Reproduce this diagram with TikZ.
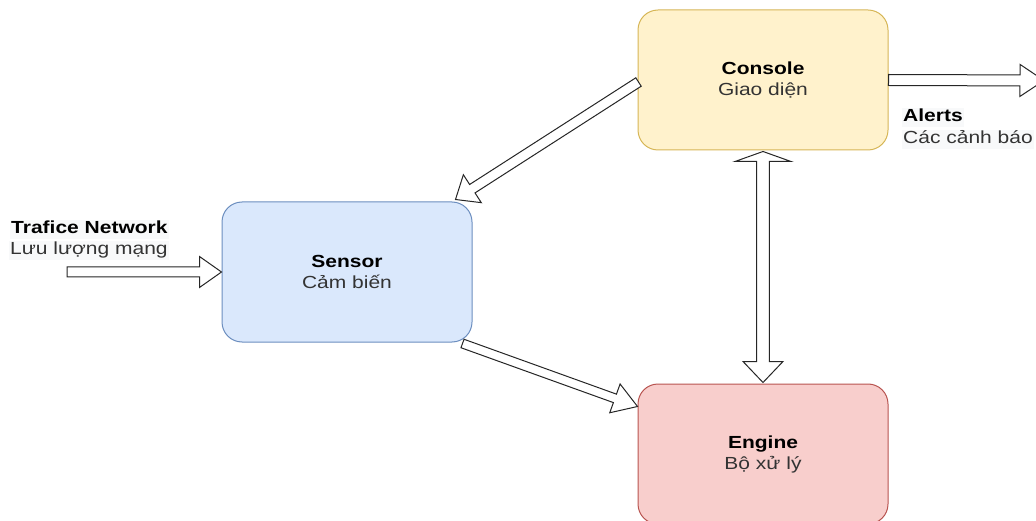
\documentclass[tikz,border=0pt]{standalone}
\usepackage{fontspec}
\setmainfont{Liberation Sans}[FakeStretch=1.2]
\usetikzlibrary{calc}

\definecolor{consoleFill}{HTML}{FFF2CC}
\definecolor{consoleLine}{HTML}{D6B656}
\definecolor{sensorFill}{HTML}{DAE8FC}
\definecolor{sensorLine}{HTML}{6C8EBF}
\definecolor{engineFill}{HTML}{F8CECC}
\definecolor{engineLine}{HTML}{B85450}
\definecolor{labelBack}{HTML}{F8F9FA}
\definecolor{textGray}{HTML}{333333}

% hollow block arrow from #1 to #2: shaft half width #3, head half width #4, head length #5
\newcommand\blockarrow[5]{%
  \path ($(#2)!#5!(#1)$) coordinate (ba-h);
  \draw[arrowbody] ($(#1)!#3!90:(#2)$) -- ($(ba-h)!#3!-90:(#1)$)
    -- ($(ba-h)!#4!-90:(#1)$) -- (#2) -- ($(ba-h)!#4!90:(#1)$)
    -- ($(ba-h)!#3!90:(#1)$) -- ($(#1)!#3!-90:(#2)$) -- cycle;
}
% hollow block arrow with heads at both ends
\newcommand\blockarrowboth[7]{%
  \path ($(#1)!#5!(#2)$) coordinate (bb-a)
        ($(#2)!#7!(#1)$) coordinate (bb-b);
  \draw[arrowbody] (#1) -- ($(bb-a)!#4!90:(#2)$) -- ($(bb-a)!#3!90:(#2)$)
    -- ($(bb-b)!#3!-90:(#1)$) -- ($(bb-b)!#6!-90:(#1)$) -- (#2)
    -- ($(bb-b)!#6!90:(#1)$) -- ($(bb-b)!#3!90:(#1)$)
    -- ($(bb-a)!#3!-90:(#2)$) -- ($(bb-a)!#4!-90:(#2)$) -- cycle;
}

\tikzset{
  block/.style={draw, line width=1pt, rounded corners=20pt,
    minimum width=250pt, minimum height=140pt, align=center,
    font=\fontsize{17.5}{21}\selectfont, text=textGray},
  arrowbody/.style={draw=black!85, fill=white, line width=1pt, line join=miter},
  lbl/.style={anchor=base west, inner sep=1pt, fill=labelBack,
    font=\fontsize{17.5}{21}\selectfont, text=textGray,
    text height=13pt, text depth=4pt},
  lblhead/.style={lbl, font=\fontsize{17.5}{21}\selectfont\bfseries, text=black},
}

\begin{document}
\begin{tikzpicture}[x=1pt,y=-1pt]
  \useasboundingbox (0,0) rectangle (1036,521);
  \clip (0,0) rectangle (1036,521);

  % components
  \node[block, fill=consoleFill, draw=consoleLine] (console) at (763,80)
    {\textbf{\color{black}Console}\\Giao diện};
  \node[block, fill=sensorFill, draw=sensorLine] (sensor) at (347,272)
    {\textbf{\color{black}Sensor}\\Cảm biến};
  \node[block, fill=engineFill, draw=engineLine] (engine) at (763,454)
    {\textbf{\color{black}Engine}\\Bộ xử lý};

  % external labels
  \node[lblhead] (netTitle) at (10,234) {Trafice Network};
  \node[lbl] (netSub) at (9,255) {Lưu lượng mạng};
  \node[lblhead] (alertTitle) at (902,122) {Alerts};
  \node[lbl] (alertSub) at (902,144) {Các cảnh báo};

  % free ends and connector ends
  \coordinate (netIn) at (67,272);
  \coordinate (alertOut) at (1044,80.5);
  \coordinate (cTail) at ($(console.west)+(1,2)$);
  \coordinate (sTip) at ($(sensor.north east)+(-17,-2)$);
  \coordinate (sTail) at ($(sensor.south east)+(-10,1)$);
  \coordinate (eTip) at ($(engine.north west)+(0,23)$);
  \coordinate (cBottom) at ($(console.south)+(0,1)$);
  \coordinate (eTop) at ($(engine.north)+(0,-1)$);

  % connectors
  \blockarrow{netIn}{sensor.west}{5pt}{15.5pt}{22pt}
  \blockarrow{console.east}{alertOut}{5.5pt}{16pt}{24pt}
  \blockarrow{cTail}{sTip}{5pt}{16.6pt}{20pt}
  \blockarrow{sTail}{eTip}{4.5pt}{15.3pt}{24pt}
  \blockarrowboth{cBottom}{eTop}{6.3pt}{28pt}{10pt}{20pt}{21pt}
\end{tikzpicture}
\end{document}
